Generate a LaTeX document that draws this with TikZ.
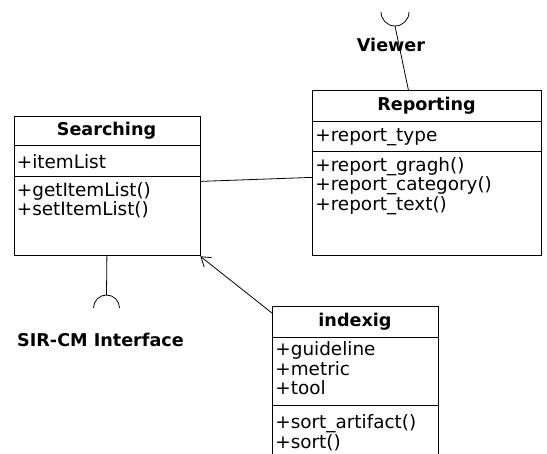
\documentclass[tikz,border=0pt]{standalone}
\usepackage{fontspec}
\setmainfont{DejaVu Sans}
\usetikzlibrary{arrows.meta}

\begin{document}
\begin{tikzpicture}[x=1pt,y=-1pt,line width=.8pt,
  every node/.style={font=\fontsize{18.4}{19.5}\selectfont,inner sep=2pt},
  classbox/.style={draw,anchor=north west},
  cname/.style={font=\fontsize{17.6}{19.5}\selectfont\bfseries},
  member/.style={anchor=west,align=left}]
\clip (0,0) rectangle (547,454);
% Searching
\node[classbox,minimum width=186,minimum height=139] (srch) at (13.5,116.5) {};
\draw ([yshift=-29pt]srch.north west) -- ([yshift=-29pt]srch.north east);
\draw ([yshift=-59.5pt]srch.north west) -- ([yshift=-59.5pt]srch.north east);
\node[cname] (srchname) at (106.5,131) {Searching};
\node[member] (srchattr) at (14.5,161.5) {+itemList};
\node[member] (srchops) at (14.5,200) {+getItemList()\\+setItemList()};
% Reporting
\node[classbox,minimum width=229,minimum height=165.5] (rept) at (312,90) {};
\draw ([yshift=-31pt]rept.north west) -- ([yshift=-31pt]rept.north east);
\draw ([yshift=-61pt]rept.north west) -- ([yshift=-61pt]rept.north east);
\node[cname] (reptname) at (426.5,105.5) {Reporting};
\node[member] (reptattr) at (313,137) {+report\_type};
\node[member] (reptops) at (313,186) {+report\_gragh()\\+report\_category()\\+report\_text()};
% indexig
\node[classbox,minimum width=166,minimum height=164] (idx) at (272,306) {};
\draw ([yshift=-31pt]idx.north west) -- ([yshift=-31pt]idx.north east);
\draw ([yshift=-99.5pt]idx.north west) -- ([yshift=-99.5pt]idx.north east);
\node[cname] (idxname) at (355,322) {indexig};
\node[member] (idxattr) at (273,368.5) {+guideline\\+metric\\+tool};
\node[member] (idxops) at (273,432.5) {+sort\_artifact()\\+sort()};
% interfaces
\coordinate (viewsock) at (395,26);
\coordinate (sirsock) at (106.5,295);
\draw (381,12) arc[start angle=180,end angle=0,radius=14];
\draw (93.5,308) arc[start angle=180,end angle=360,radius=13];
\node[cname] (viewlbl) at (391,45) {Viewer};
\node[cname] (sirlbl) at (100.5,340) {SIR-CM Interface};
\draw (viewsock) -- ([xshift=-18.5pt]rept.north);
\draw (srch.south) -- (sirsock);
% links
\draw ([yshift=5pt]srch.east) -- ([yshift=-4.25pt]rept.west);
\draw[-{Straight Barb[length=9pt,width=12pt]}] ([yshift=-7pt]idx.north west) -- (srch.south east);
\end{tikzpicture}
\end{document}
